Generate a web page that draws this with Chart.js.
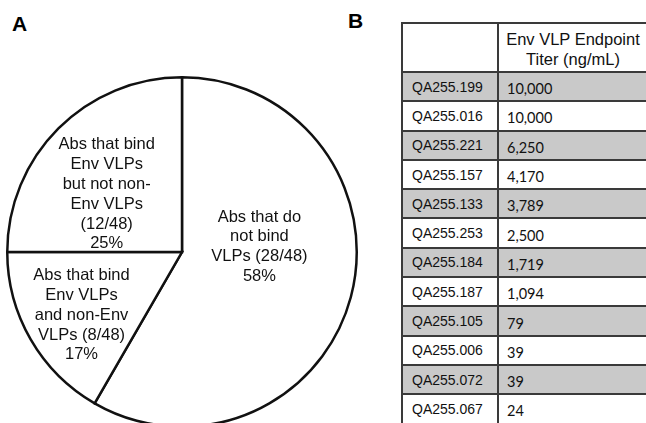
<!DOCTYPE html>
<html>
<head>
<meta charset="utf-8">
<script src="https://cdn.jsdelivr.net/npm/chart.js@4"></script>
<style>
  html, body { margin: 0; padding: 0; background: #fff; }
  body { width: 646px; height: 423px; position: relative; overflow: hidden; font-family: "Liberation Sans", Arial, sans-serif; }
  .panel { position: absolute; font-weight: bold; font-size: 21px; color: #000; }
  #pie-wrap { position: absolute; left: 6px; top: 76px; width: 352px; height: 352px; }
  #titers { position: absolute; left: 401px; top: 22px; border-collapse: collapse; table-layout: fixed; width: 262px; }
  #titers td, #titers th { border: 2px solid #3a3a3a; padding: 0; font-size: 14px; color: #111; }
  #titers th { height: 47px; font-weight: normal; font-size: 16.5px; text-align: center; line-height: 20px; padding-left: 0; padding-top: 0; vertical-align: top; }
  #titers th div { position: relative; top: 5px; left: -8px; }
  #titers td { height: 27.3px; }
  #titers td.id { padding-left: 9px; }
  #titers td.val { padding-left: 8px; font-family: Lato, "Open Sans", sans-serif; font-size: 14.5px; }
  #titers td.val span { position: relative; top: 2px; }
  #titers tr.shade td { background: #c9c9c9; }
</style>
</head>
<body>
<div class="panel" style="left:12px; top:12px;">A</div>
<div class="panel" style="left:348px; top:9px;">B</div>
<div id="pie-wrap"><canvas id="chart"></canvas></div>
<table id="titers"></table>

<script>
// Pie data (clockwise from 12 o'clock)
const sliceLabels = [
    ['Abs that do', 'not bind', 'VLPs (28/48)', '58%'],
    ['Abs that bind', 'Env VLPs', 'and non-Env', 'VLPs (8/48)', '17%'],
    ['Abs that bind', 'Env VLPs', 'but not non-', 'Env VLPs', '(12/48)', '25%']
];
const sliceCounts = [28, 8, 12];

// Table data
const titerHeader = ['Env VLP Endpoint', 'Titer (ng/mL)'];
const antibodies = ['QA255.199', 'QA255.016', 'QA255.221', 'QA255.157', 'QA255.133', 'QA255.253',
    'QA255.184', 'QA255.187', 'QA255.105', 'QA255.006', 'QA255.072', 'QA255.067'];
const titers = ['10,000', '10,000', '6,250', '4,170', '3,789', '2,500', '1,719', '1,094', '79', '39', '39', '24'];

// Build the table
const table = document.querySelector('#titers');
let html = '<colgroup><col style="width:96px"><col style="width:166px"></colgroup>';
html += '<tr><th></th><th><div>' + titerHeader.join('<br>') + '</div></th></tr>';
antibodies.forEach((id, i) => {
    html += '<tr class="' + (i % 2 === 0 ? 'shade' : '') + '"><td class="id">' + id +
        '</td><td class="val"><span>' + titers[i] + '</span></td></tr>';
});
table.innerHTML = html;

// Label offsets inside each slice, as fractions of the radius
const labelOffsets = [[0.443, -0.03], [-0.575, 0.362], [-0.431, -0.33]];

const sliceText = {
    id: 'sliceText',
    afterDatasetsDraw(chart) {
        const ctx = chart.ctx;
        const arcs = chart.getDatasetMeta(0).data;
        ctx.save();
        ctx.fillStyle = '#111';
        ctx.font = '16.5px "Liberation Sans", Arial, sans-serif';
        ctx.textAlign = 'center';
        ctx.textBaseline = 'middle';
        arcs.forEach((arc, i) => {
            const r = arc.outerRadius;
            const cx = arc.x + labelOffsets[i][0] * r;
            const cy = arc.y + labelOffsets[i][1] * r;
            const lines = sliceLabels[i];
            const lh = 19.8;
            lines.forEach((t, j) => {
                ctx.fillText(t, cx, cy + (j - (lines.length - 1) / 2) * lh);
            });
        });
        ctx.restore();
    }
};

new Chart(document.querySelector('#chart'), {
    type: 'pie',
    data: {
        labels: sliceLabels.map(l => l.join(' ')),
        datasets: [{
            data: sliceCounts,
            backgroundColor: '#ffffff',
            borderColor: '#111111',
            borderWidth: 2.5,
            borderJoinStyle: 'miter'
        }]
    },
    options: {
        responsive: true,
        maintainAspectRatio: false,
        animation: false,
        layout: { padding: 0 },
        plugins: {
            legend: { display: false },
            tooltip: { enabled: false }
        }
    },
    plugins: [sliceText]
});
</script>
</body>
</html>
